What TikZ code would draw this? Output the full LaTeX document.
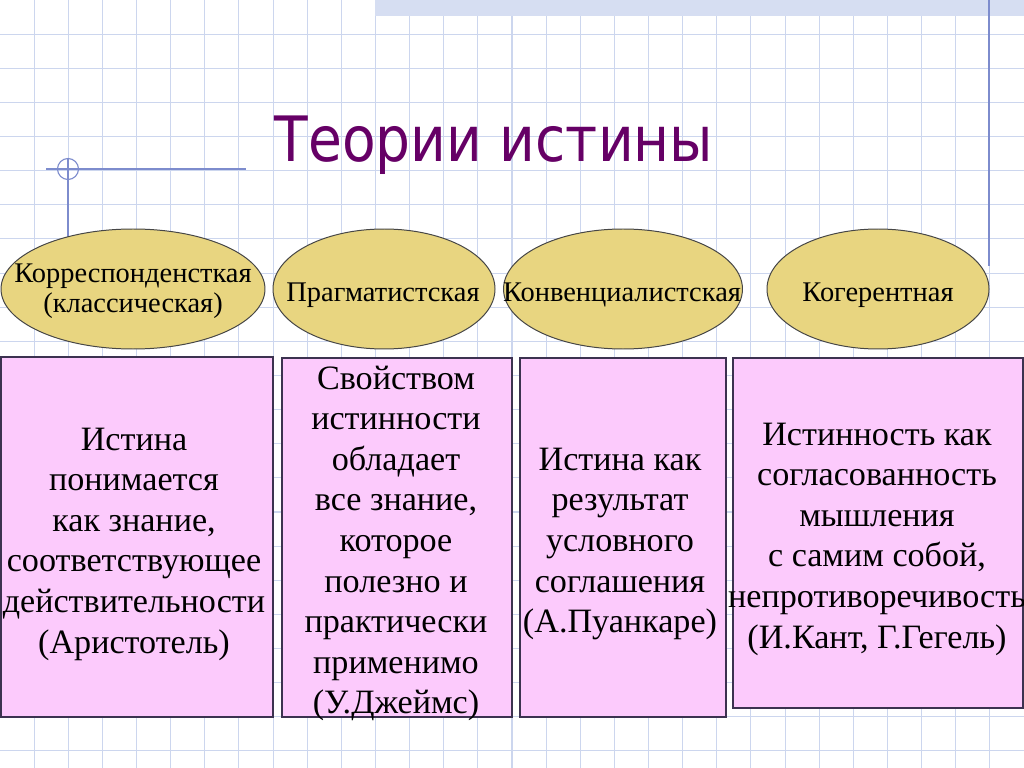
\documentclass[tikz,border=0pt]{standalone}
\usepackage{fontspec}
\setmainfont{Liberation Serif}
\newfontfamily\titlefont[FakeStretch=0.88]{DejaVu Sans}
\usetikzlibrary{shapes.geometric}
\definecolor{gridc}{RGB}{204,214,238}
\definecolor{bandc}{RGB}{214,222,242}
\definecolor{accent}{RGB}{125,140,205}
\definecolor{ellfill}{RGB}{232,213,128}
\definecolor{ellline}{RGB}{70,70,70}
\definecolor{boxfill}{RGB}{252,202,252}
\definecolor{boxline}{RGB}{60,50,80}
\definecolor{titlec}{RGB}{102,0,102}
\tikzset{
  gridline/.style={draw=gridc, line width=0.75pt},
  accentline/.style={draw=accent, line width=0.8pt},
  theory/.style={ellipse, draw=ellline, fill=ellfill, line width=0.7pt, inner sep=0pt, minimum height=84.375pt},
  etext/.style={align=center, inner sep=0pt, font=\fontsize{20}{21.3}\selectfont},
  pbox/.style={rectangle, draw=boxline, fill=boxfill, line width=1pt, inner sep=0pt},
  btext/.style={align=center, inner sep=0pt, font=\fontsize{24}{28.55}\selectfont},
  titletext/.style={inner sep=0pt, text=titlec, font=\titlefont\fontsize{44}{50}\selectfont}
}
\begin{document}
\begin{tikzpicture}[x=0.703125pt, y=-0.703125pt]
\fill[white] (0,0) rectangle (1024,768);
\useasboundingbox (0,0) rectangle (1024,768);
% grid
\foreach \k in {1,...,29} { \draw[gridline] ({34.1333*\k},0) -- ({34.1333*\k},768); }
\foreach \k in {1,...,22} { \draw[gridline] (0,{34.1333*\k}) -- (1024,{34.1333*\k}); }
% top band
\fill[bandc] (375,0) rectangle (1024,16);
% decorative lines
\draw[accentline] (989,0) -- (989,266);
\draw[accentline] (46,169) -- (246,169);
\draw[accentline] (68,158) -- (68,300);
\draw[accentline] (68,169) circle [radius=10.5];
% title
\node[titletext, anchor=base] (title) at (494,162) {Теории истины};
% ellipses
\node[theory, minimum width=185.6pt] (e1) at (133,289) {};
\node[theory, minimum width=156.1pt] (e2) at (384,289) {};
\node[theory, minimum width=168.0pt] (e3) at (623,289) {};
\node[theory, minimum width=156.1pt] (e4) at (878,289) {};
\node[etext] (e1t) at (133,291) {Корреспонденсткая\\(классическая)};
\node[etext] (e2t) at (383,295) {Прагматистская};
\node[etext] (e3t) at (622,295) {Конвенциалистская};
\node[etext] (e4t) at (878,295) {Когерентная};
% boxes
\node[pbox, minimum width=191.25pt, minimum height=253.1pt] (b1) at (137,537) {};
\node[pbox, minimum width=161.7pt, minimum height=252.4pt] (b2) at (397,537.5) {};
\node[pbox, minimum width=144.8pt, minimum height=252.4pt] (b3) at (623,537.5) {};
\node[pbox, minimum width=203.9pt, minimum height=246.1pt] (b4) at (878,533) {};
\node[btext] (t1) at (134,544) {Истина\\понимается\\как знание,\\соответствующее\\действительности\\(Аристотель)};
\node[btext] (t2) at (396,543.5) {Свойством\\истинности\\обладает\\все знание,\\которое\\полезно и\\практически\\применимо\\(У.Джеймс)};
\node[btext] (t3) at (620,544) {Истина как\\результат\\условного\\соглашения\\(А.Пуанкаре)};
\node[btext] (t4) at (877,539) {Истинность как\\согласованность\\мышления\\с самим собой,\\непротиворечивость\\(И.Кант, Г.Гегель)};
\end{tikzpicture}
\end{document}
